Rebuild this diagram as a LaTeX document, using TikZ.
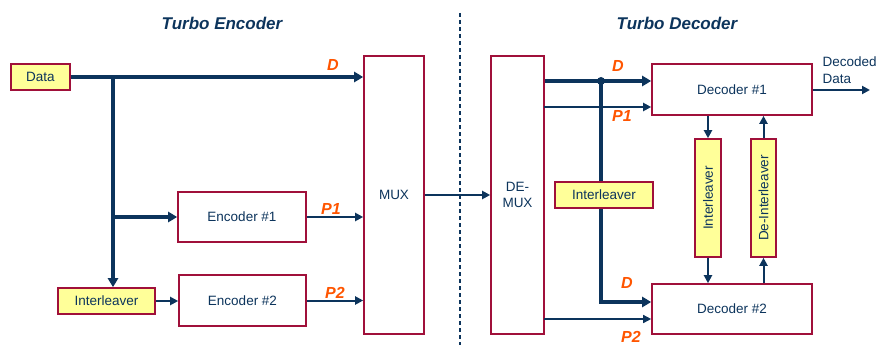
\documentclass[tikz,border=0pt]{standalone}
\usepackage{fontspec}
\setmainfont{Liberation Sans}
\usetikzlibrary{arrows.meta}
\definecolor{navy}{RGB}{12,52,92}
\definecolor{boxred}{RGB}{160,16,58}
\definecolor{yel}{RGB}{255,255,153}
\definecolor{lbl}{RGB}{255,85,0}
\begin{document}
\begin{tikzpicture}[x=1pt,y=-1pt,
  box/.style={draw=boxred, line width=1.6pt, fill=white, text=navy, inner sep=0pt, font=\fontsize{13.5}{16}\selectfont},
  ybox/.style={box, fill=yel},
  thickln/.style={draw=navy, line width=3.4pt},
  thickar/.style={thickln, -{Triangle[length=9pt,width=10pt]}},
  thinar/.style={draw=navy, line width=2pt, -{Triangle[length=8pt,width=8pt]}},
  finear/.style={draw=navy, line width=1.4pt, -{Triangle[length=8pt,width=8pt]}},
  lab/.style={text=lbl, font=\fontsize{16}{18}\selectfont\bfseries\itshape},
  ttl/.style={text=navy, font=\fontsize{17}{19}\selectfont\bfseries\itshape},
  plain/.style={text=navy, font=\fontsize{13.5}{17}\selectfont}]
\useasboundingbox (0,0) rectangle (878,345);

% titles
\node[ttl] (t1) at (222,23) {Turbo Encoder};
\node[ttl] (t2) at (677,23) {Turbo Decoder};
\draw[navy, line width=1.2pt, dash pattern=on 4pt off 3pt] (460,13) coordinate (ds) -- (460,345) coordinate (de);

% encoder boxes
\node[ybox, minimum width=59pt, minimum height=26pt] (data) at (40.5,77) {Data};
\node[ybox, minimum width=97pt, minimum height=26pt] (intl) at (106.5,301) {Interleaver};
\node[box, minimum width=128pt, minimum height=50pt] (enc1) at (242,217) {Encoder \#1};
\node[box, minimum width=127pt, minimum height=51pt] (enc2) at (242.5,300.5) {Encoder \#2};
\node[box, minimum width=60pt, minimum height=278pt] (mux) at (394,195) {MUX};

% decoder boxes
\node[box, minimum width=53pt, minimum height=278pt, align=center] (demux) at (517.5,195) {DE-\\MUX};
\node[box, minimum width=160pt, minimum height=51pt] (dec1) at (732,89.5) {Decoder \#1};
\node[box, minimum width=160pt, minimum height=50pt] (dec2) at (732,309) {Decoder \#2};
\node[ybox, minimum width=98pt, minimum height=26pt] (intm) at (604,195) {Interleaver};
\node[ybox, minimum width=26pt, minimum height=118pt] (intv) at (708,198) {};
\node[text=navy, font=\fontsize{13.5}{16}\selectfont, rotate=90] (intvt) at (intv.center) {Interleaver};
\node[ybox, minimum width=25pt, minimum height=118pt] (deint) at (763.5,198) {};
\node[text=navy, font=\fontsize{13.5}{16}\selectfont, rotate=90] (deintt) at (deint.center) {De-Interleaver};

% encoder connectors
\coordinate (b1) at (113,77);
\draw[thickar] (data.east) -- (data.east -| mux.west);
\draw[thickar] (b1) -- (b1 |- intl.north);
\draw[thickar] (b1 |- enc1.west) -- (enc1.west);
\draw[thinar] (intl.east) -- (intl.east -| enc2.west);
\draw[thinar] (enc1.east) -- (enc1.east -| mux.west);
\draw[thinar] (enc2.east) -- (enc2.east -| mux.west);
\draw[thinar] (mux.east) -- (mux.east -| demux.west);

% decoder connectors
\coordinate (j) at (601,81);
\coordinate (k) at (601,302);
\coordinate (p1) at (544,107);
\coordinate (p2) at (544,319);
\draw[thickar] (j -| demux.east) -- (j -| dec1.west);
\fill[navy] (j) circle (4pt);
\draw[thinar] (p1) -- (p1 -| dec1.west);
\draw[thickln] (j) -- (j |- intm.north);
\draw[thickar] (j |- intm.south) -- (k) -- (k -| dec2.west);
\draw[finear] (p2) -- (p2 -| dec2.west);
\draw[thinar] (intv.north |- dec1.south) -- (intv.north);
\draw[thinar] (intv.south) -- (intv.south |- dec2.north);
\draw[thinar] (deint.south |- dec2.north) -- (deint.south);
\draw[thinar] (deint.north) -- (deint.north |- dec1.south);
\coordinate (out) at (870,90);
\draw[thinar] (dec1.east |- out) -- (out);
\node[plain, anchor=west, align=left] (dd) at (819,70) {Decoded\\Data};

% labels
\node[lab] (lD1) at (333,65) {D};
\node[lab] (lP1) at (331,209) {P1};
\node[lab] (lP2) at (335,293) {P2};
\node[lab] (lD2) at (618,66) {D};
\node[lab] (lP1d) at (622,116) {P1};
\node[lab] (lD3) at (627,283) {D};
\node[lab] (lP2d) at (631,337) {P2};
\end{tikzpicture}
\end{document}
